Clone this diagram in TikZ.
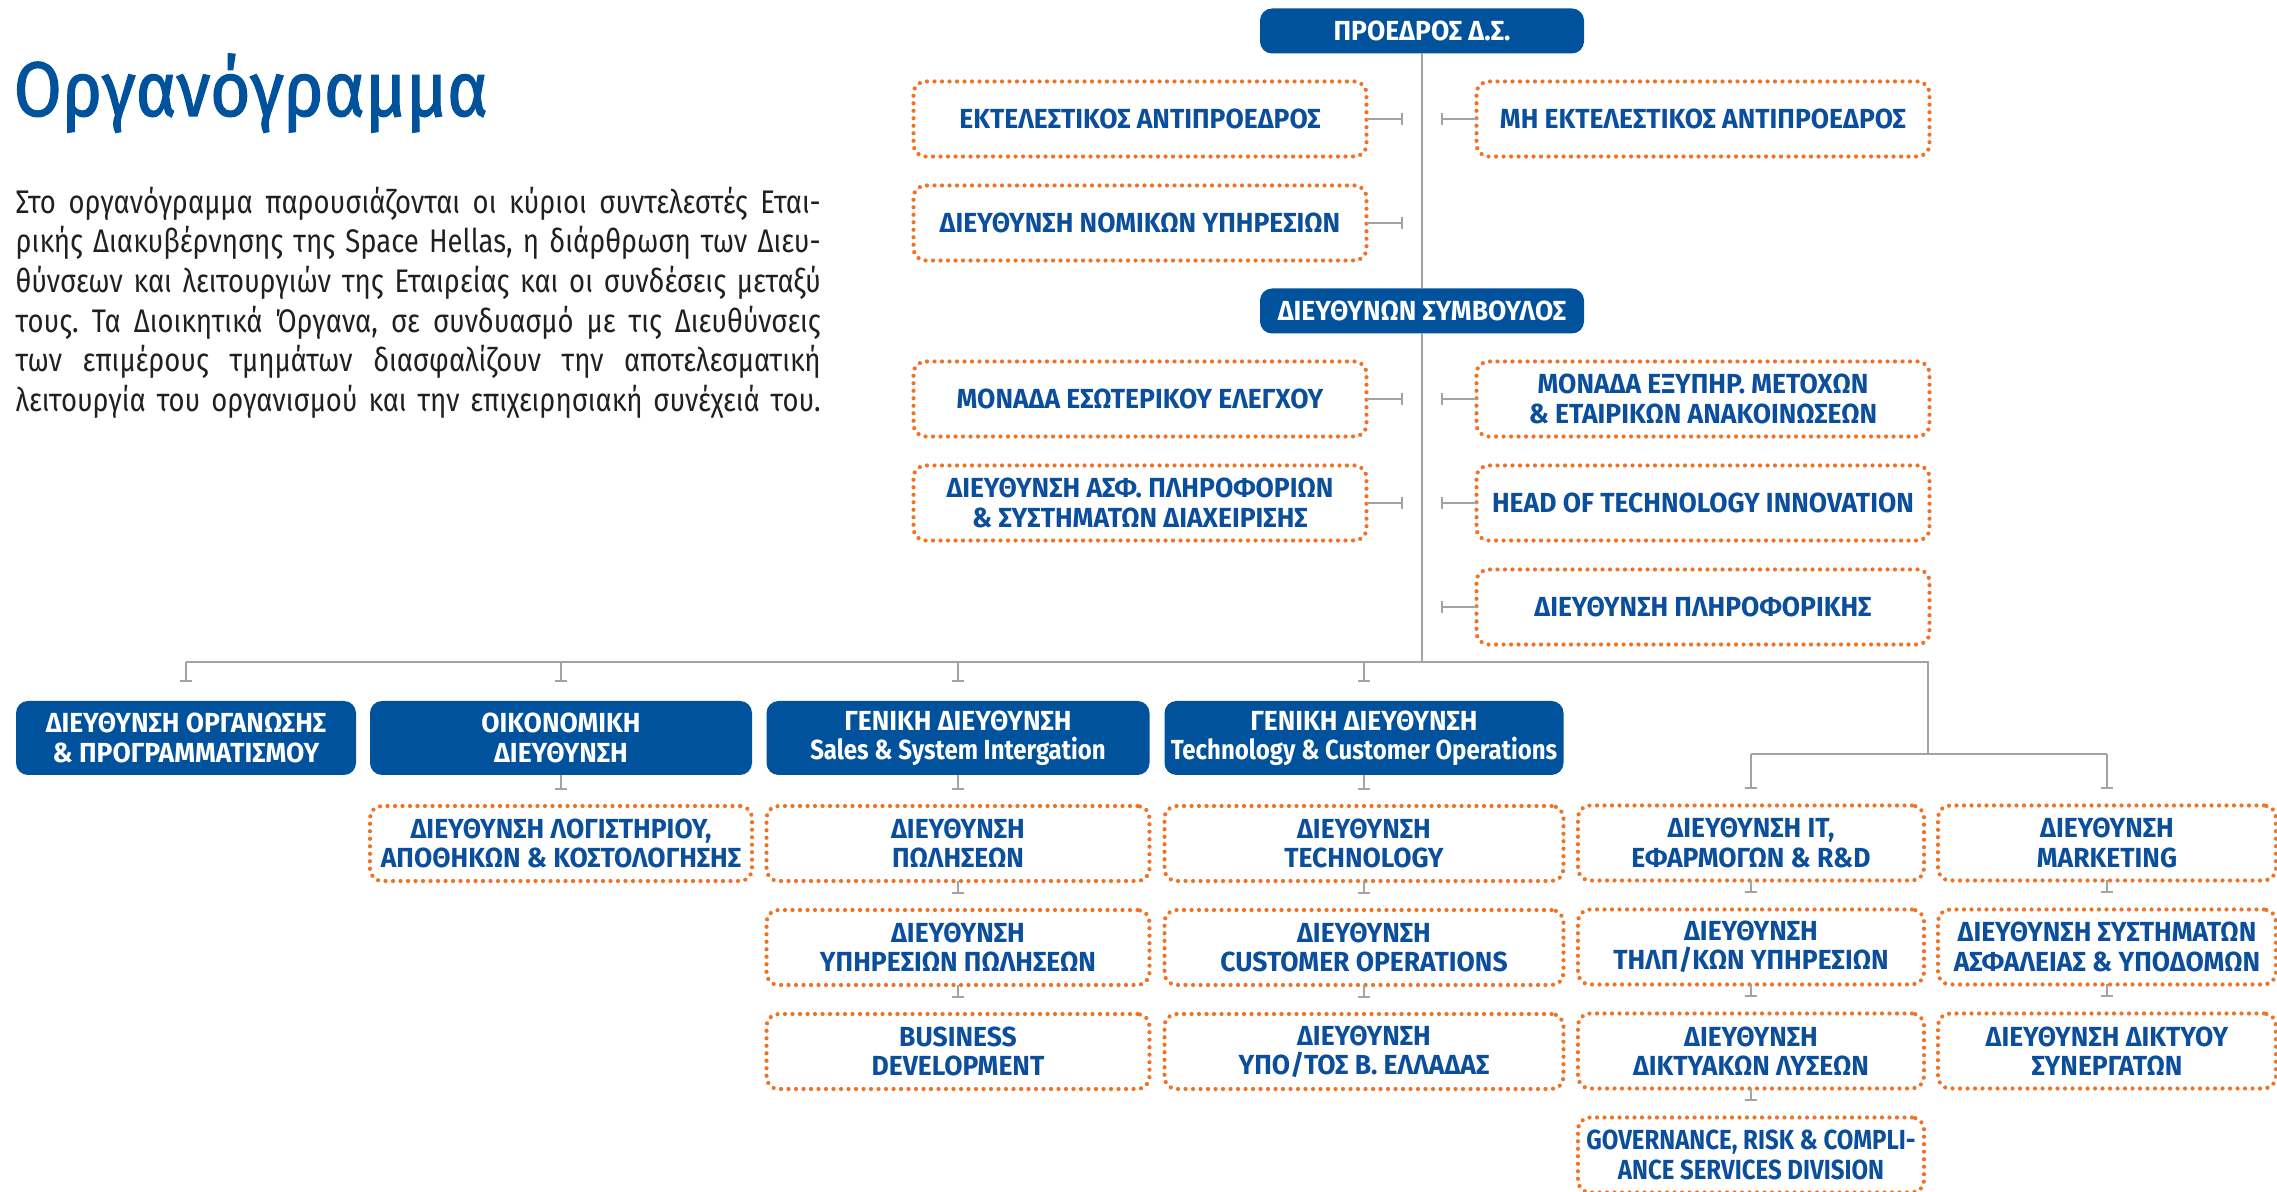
\documentclass[tikz,border=0pt]{standalone}
\usepackage{fontspec}
\setmainfont[FakeStretch=0.84]{Fira Sans}
\newfontfamily\firabox[FakeStretch=0.96]{Fira Sans}
\newfontfamily\firanarrow[FakeStretch=0.87]{Fira Sans}
\newfontfamily\titlefont[FakeStretch=0.9,FakeBold=1.5]{Fira Sans}
\IfFontExistsTF{FiraSans-Medium.otf}
  {\newfontfamily\boxfont[FakeStretch=0.96]{FiraSans-Medium.otf}
   \newfontfamily\narrowfont[FakeStretch=0.87]{FiraSans-Medium.otf}}
  {\newcommand\boxfont{\firabox\bfseries}
   \newcommand\narrowfont{\firanarrow\bfseries}}
\usepackage{xcolor}
\usepackage{tikz}
\usetikzlibrary{positioning}
\usetikzlibrary{arrows.meta}

\definecolor{shblue}{HTML}{00529C}
\definecolor{shorange}{HTML}{F07225}
\definecolor{shtext}{HTML}{0B4F9C}
\definecolor{wiregrey}{HTML}{A3A3A3}
\definecolor{bodytext}{HTML}{231F20}

\begin{document}
\begin{tikzpicture}[
    x=0.1mm, y=-0.1mm,
    head/.style={rectangle, rounded corners=1.2mm, fill=shblue, text=white, inner sep=0pt, outer sep=0pt, minimum height=7.4mm, align=center, font=\boxfont\fontsize{7.85}{8.3}\selectfont},
    unit/.style={rectangle, rounded corners=1.2mm, draw=shorange, line width=0.42mm, dash pattern=on 0pt off 0.75mm, line cap=round, text=shtext, inner sep=0pt, outer sep=0pt, minimum height=7.5mm, align=center, font=\boxfont\fontsize{7.85}{8.3}\selectfont},
    wire/.style={draw=wiregrey, line width=0.2mm},
    link/.style={wire, -{Bar[width=1.2mm]}, shorten >=1.6mm}
  ]
  \useasboundingbox (0,0) rectangle (2277,1192);

  % Title and intro text
  \node[anchor=base west, inner sep=0pt, text=shblue, font=\titlefont\fontsize{22}{26}\selectfont] (title) at (13,116) {Οργανόγραμμα};
  \node[anchor=north west, inner sep=0pt, text width=80.5mm, align=justify, text=bodytext, font=\fontsize{9.3}{11.3}\selectfont] (intro) at (15,186)
    {\frenchspacing\parfillskip=0pt Στο οργανόγραμμα παρουσιάζονται οι κύριοι συντελεστές Εται-\linebreak
     ρικής Διακυβέρνησης της Space Hellas, η διάρθρωση των Διευ-\linebreak
     θύνσεων και λειτουργιών της Εταιρείας και οι συνδέσεις μεταξύ\linebreak
     τους. Τα Διοικητικά Όργανα, σε συνδυασμό με τις Διευθύνσεις\linebreak
     των επιμέρους τμημάτων διασφαλίζουν την αποτελεσματική\linebreak
     λειτουργία του οργανισμού και την επιχειρησιακή συνέχειά του.\par};

  % Board level
  \node[head, minimum width=32.4mm, minimum height=4.5mm] (pres) at (1422,31) {ΠΡΟΕΔΡΟΣ Δ.Σ.};
  \node[unit, minimum width=45.3mm] (vpexec) at (1140,119) {ΕΚΤΕΛΕΣΤΙΚΟΣ ΑΝΤΙΠΡΟΕΔΡΟΣ};
  \node[unit, minimum width=45.3mm, below=2.9mm of vpexec] (legal) {ΔΙΕΥΘΥΝΣΗ ΝΟΜΙΚΩΝ ΥΠΗΡΕΣΙΩΝ};
  \node[unit, minimum width=45.3mm] (vpnonexec) at (1703,119) {ΜΗ ΕΚΤΕΛΕΣΤΙΚΟΣ ΑΝΤΙΠΡΟΕΔΡΟΣ};

  % CEO level
  \node[head, minimum width=32.4mm, minimum height=4.5mm] (ceo) at (1422,311) {ΔΙΕΥΘΥΝΩΝ ΣΥΜΒΟΥΛΟΣ};
  \node[unit, minimum width=45.3mm] (audit) at (1140,399) {ΜΟΝΑΔΑ ΕΣΩΤΕΡΙΚΟΥ ΕΛΕΓΧΟΥ};
  \node[unit, minimum width=45.3mm, below=2.9mm of audit] (infosec) {ΔΙΕΥΘΥΝΣΗ ΑΣΦ. ΠΛΗΡΟΦΟΡΙΩΝ\\\& ΣΥΣΤΗΜΑΤΩΝ ΔΙΑΧΕΙΡΙΣΗΣ};
  \node[unit, minimum width=45.3mm] (investor) at (1703,399) {ΜΟΝΑΔΑ ΕΞΥΠΗΡ. ΜΕΤΟΧΩΝ\\\& ΕΤΑΙΡΙΚΩΝ ΑΝΑΚΟΙΝΩΣΕΩΝ};
  \node[unit, minimum width=45.3mm, below=2.9mm of investor] (techinno) {HEAD OF TECHNOLOGY INNOVATION};
  \node[unit, minimum width=45.3mm, below=2.9mm of techinno] (itdir) {ΔΙΕΥΘΥΝΣΗ ΠΛΗΡΟΦΟΡΙΚΗΣ};

  % General directorates
  \node[head, minimum width=34mm] (org) at (186,738) {ΔΙΕΥΘΥΝΣΗ ΟΡΓΑΝΩΣΗΣ\\\& ΠΡΟΓΡΑΜΜΑΤΙΣΜΟΥ};
  \node[head, minimum width=38.2mm] (fin) at (561,738) {ΟΙΚΟΝΟΜΙΚΗ\\ΔΙΕΥΘΥΝΣΗ};
  \node[head, minimum width=38.3mm] (sales) at (958,738) {ΓΕΝΙΚΗ ΔΙΕΥΘΥΝΣΗ\\{\narrowfont Sales \& System Intergation}};
  \node[head, minimum width=39.9mm] (tco) at (1364,738) {ΓΕΝΙΚΗ ΔΙΕΥΘΥΝΣΗ\\{\narrowfont Technology \& Customer Operations}};

  % Directorates
  \node[unit, minimum width=38.2mm, below=3.1mm of fin] (acc) {ΔΙΕΥΘΥΝΣΗ ΛΟΓΙΣΤΗΡΙΟΥ,\\ΑΠΟΘΗΚΩΝ \& ΚΟΣΤΟΛΟΓΗΣΗΣ};

  \node[unit, minimum width=38.3mm, below=3.1mm of sales] (salesdir) {ΔΙΕΥΘΥΝΣΗ\\ΠΩΛΗΣΕΩΝ};
  \node[unit, minimum width=38.3mm, below=2.9mm of salesdir] (salesserv) {ΔΙΕΥΘΥΝΣΗ\\ΥΠΗΡΕΣΙΩΝ ΠΩΛΗΣΕΩΝ};
  \node[unit, minimum width=38.3mm, below=2.9mm of salesserv] (bizdev) {BUSINESS\\DEVELOPMENT};

  \node[unit, minimum width=39.9mm, below=3.1mm of tco] (techdir) {ΔΙΕΥΘΥΝΣΗ\\TECHNOLOGY};
  \node[unit, minimum width=39.9mm, below=2.9mm of techdir] (custops) {ΔΙΕΥΘΥΝΣΗ\\CUSTOMER OPERATIONS};
  \node[unit, minimum width=39.9mm, below=2.9mm of custops] (north) {ΔΙΕΥΘΥΝΣΗ\\ΥΠΟ/ΤΟΣ Β. ΕΛΛΑΔΑΣ};

  \node[unit, minimum width=34.6mm] (itapps) at (1751,843) {ΔΙΕΥΘΥΝΣΗ IT,\\ΕΦΑΡΜΟΓΩΝ \& R\&D};
  \node[unit, minimum width=34.6mm, below=2.9mm of itapps] (telco) {ΔΙΕΥΘΥΝΣΗ\\ΤΗΛΠ/ΚΩΝ ΥΠΗΡΕΣΙΩΝ};
  \node[unit, minimum width=34.6mm, below=2.9mm of telco] (netsol) {ΔΙΕΥΘΥΝΣΗ\\ΔΙΚΤΥΑΚΩΝ ΛΥΣΕΩΝ};
  \node[unit, minimum width=34.6mm, below=2.9mm of netsol] (grc) {\narrowfont GOVERNANCE, RISK \& COMPLI-\\\narrowfont ANCE SERVICES DIVISION};

  \node[unit, minimum width=33.8mm] (mkt) at (2107,843) {ΔΙΕΥΘΥΝΣΗ\\MARKETING};
  \node[unit, minimum width=33.8mm, below=2.9mm of mkt] (secinfra) {ΔΙΕΥΘΥΝΣΗ ΣΥΣΤΗΜΑΤΩΝ\\ΑΣΦΑΛΕΙΑΣ \& ΥΠΟΔΟΜΩΝ};
  \node[unit, minimum width=33.8mm, below=2.9mm of secinfra] (partners) {ΔΙΕΥΘΥΝΣΗ ΔΙΚΤΥΟΥ\\ΣΥΝΕΡΓΑΤΩΝ};

  % Trunk and buses
  \coordinate (bus) at (1422,662);
  \coordinate (busend) at (1928,662);
  \coordinate (bus2) at (1928,754);
  \draw[wire] (pres) -- (ceo);
  \draw[wire] (ceo) -- (bus);
  \draw[wire] (org |- bus) -- (busend) -- (bus2);
  \draw[wire] (itapps |- bus2) -- (mkt |- bus2);

  % Side units
  \draw[link, shorten >=1.9mm] (vpexec) -- (vpexec -| pres);
  \draw[link, shorten >=1.9mm] (legal) -- (legal -| pres);
  \draw[link, shorten >=1.9mm] (vpnonexec) -- (vpnonexec -| pres);
  \draw[link, shorten >=1.9mm] (audit) -- (audit -| pres);
  \draw[link, shorten >=1.9mm] (infosec) -- (infosec -| pres);
  \draw[link, shorten >=1.9mm] (investor) -- (investor -| pres);
  \draw[link, shorten >=1.9mm] (techinno) -- (techinno -| pres);
  \draw[link, shorten >=1.9mm] (itdir) -- (itdir -| pres);

  % Drops from the buses
  \draw[link, shorten >=1.9mm] (org |- bus) -- (org);
  \draw[link, shorten >=1.9mm] (fin |- bus) -- (fin);
  \draw[link, shorten >=1.9mm] (sales |- bus) -- (sales);
  \draw[link, shorten >=1.9mm] (tco |- bus) -- (tco);
  \draw[link] (itapps |- bus2) -- (itapps);
  \draw[link] (mkt |- bus2) -- (mkt);

  % Columns
  \draw[link] (fin) -- (acc);
  \draw[link] (sales) -- (salesdir);
  \draw[link] (salesdir) -- (salesserv);
  \draw[link] (salesserv) -- (bizdev);
  \draw[link] (tco) -- (techdir);
  \draw[link] (techdir) -- (custops);
  \draw[link] (custops) -- (north);
  \draw[link] (itapps) -- (telco);
  \draw[link] (telco) -- (netsol);
  \draw[link] (netsol) -- (grc);
  \draw[link] (mkt) -- (secinfra);
  \draw[link] (secinfra) -- (partners);

\end{tikzpicture}
\end{document}
